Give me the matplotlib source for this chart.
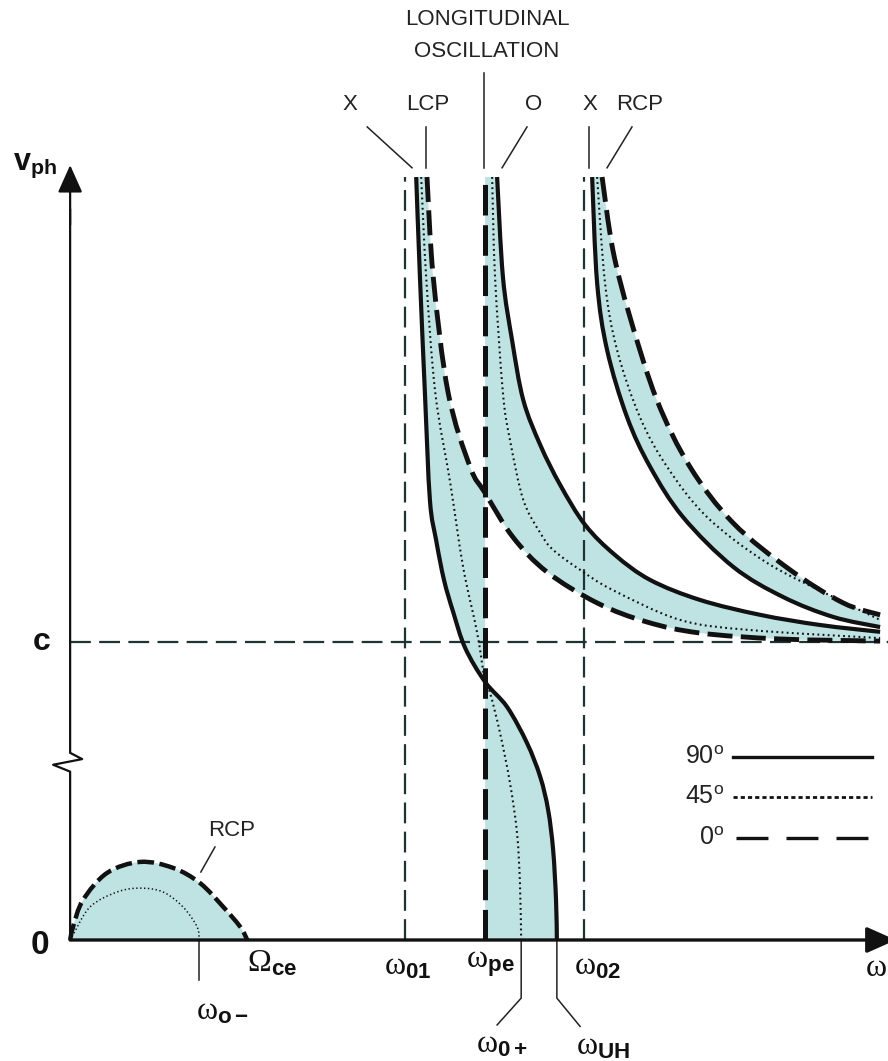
import numpy as np
import matplotlib
matplotlib.use('Agg')
import matplotlib.pyplot as plt
from matplotlib.path import Path
from matplotlib.patches import PathPatch

plt.rcParams['font.family'] = ['Liberation Sans', 'DejaVu Sans']
plt.rcParams['mathtext.fontset'] = 'custom'
plt.rcParams['mathtext.rm'] = 'Liberation Serif'
plt.rcParams['mathtext.bf'] = 'Liberation Sans:bold'
plt.rcParams['mathtext.sf'] = 'Liberation Sans'
plt.rcParams['mathtext.it'] = 'Liberation Serif:italic'
plt.rcParams['lines.scale_dashes'] = False

# x = omega / omega_pe,  y = v_ph / c 
w_ce = 0.427
w_0m = 0.311
w_01 = 0.807
w_pe = 1.0
w_0p = 1.087
w_uh = 1.173
w_02 = 1.239
y_top = 2.56
x_end = 1.971

# X mode / LCP group (left)
x90_x = [0.834, 0.843, 0.855, 0.867, 0.882, 0.901, 0.923, 0.952, 1.000, 1.053, 1.101, 1.133, 1.152, 1.164, 1.171, 1.173]
x90_y = [2.560, 2.225, 1.836, 1.477, 1.342, 1.208, 1.101, 0.980, 0.866, 0.782, 0.661, 0.547, 0.436, 0.302, 0.134, 0.0]
x45_x = [0.846, 0.858, 0.880, 0.916, 0.947, 0.981, 1.000, 1.012, 1.036, 1.060, 1.077, 1.084, 1.087]
x45_y = [2.560, 2.225, 1.836, 1.534, 1.252, 1.030, 0.866, 0.829, 0.695, 0.527, 0.359, 0.191, 0.0]
lcp_x = [0.860, 0.875, 0.911, 0.964, 1.000, 1.067, 1.149, 1.270, 1.390, 1.518, 1.711, 1.952]
lcp_y = [2.560, 2.225, 1.836, 1.587, 1.500, 1.352, 1.235, 1.131, 1.067, 1.030, 1.010, 1.003]

# O mode group
o90_x = [1.029, 1.043, 1.065, 1.092, 1.133, 1.181, 1.241, 1.313, 1.398, 1.518, 1.663, 1.807, 1.952]
o90_y = [2.560, 2.225, 2.013, 1.812, 1.661, 1.527, 1.393, 1.292, 1.208, 1.141, 1.091, 1.057, 1.034]
o45_x = [1.017, 1.024, 1.043, 1.060, 1.092, 1.133, 1.164, 1.229, 1.308, 1.470, 1.639, 1.952]
o45_y = [2.560, 2.225, 1.836, 1.678, 1.477, 1.366, 1.309, 1.242, 1.174, 1.074, 1.040, 1.013]

# X / RCP group (right)
r90_x = [1.258, 1.270, 1.294, 1.342, 1.398, 1.477, 1.598, 1.718, 1.839, 1.952]
r90_y = [2.560, 2.205, 1.980, 1.755, 1.587, 1.419, 1.252, 1.151, 1.084, 1.050]
r45_x = [1.270, 1.289, 1.318, 1.373, 1.439, 1.535, 1.680, 1.839, 1.952]
r45_y = [2.560, 2.205, 1.980, 1.755, 1.587, 1.419, 1.265, 1.151, 1.074]
r0_x = [1.282, 1.308, 1.349, 1.414, 1.494, 1.598, 1.735, 1.863, 1.952]
r0_y = [2.560, 2.315, 2.091, 1.812, 1.587, 1.399, 1.242, 1.131, 1.091]

# low frequency RCP (whistler)
wh0_x = [0.0, 0.007, 0.031, 0.089, 0.169, 0.248, 0.313, 0.369, 0.410, 0.427]
wh0_y = [0.0, 0.044, 0.134, 0.225, 0.262, 0.242, 0.191, 0.111, 0.044, 0.0]
wh45_x = [0.0, 0.007, 0.048, 0.113, 0.169, 0.224, 0.272, 0.306, 0.311]
wh45_y = [0.0, 0.017, 0.111, 0.161, 0.174, 0.161, 0.111, 0.044, 0.0]

legend_labels = ['90$^{\\mathsf{o}}$', '45$^{\\mathsf{o}}$', '0$^{\\mathsf{o}}$']

ink = '#111111'
teal = '#bfe3e2'
thin = '#1e3434'


def bez(xs, ys, i0=0, i1=None):
    # cubic bezier pieces through the read points (catmull-rom tangents)
    p = np.column_stack([xs, ys])
    n = len(p)
    if i1 is None:
        i1 = n - 1
    verts = [p[i0]]
    for i in range(i0, i1):
        a = p[max(i - 1, 0)]
        d = p[min(i + 2, n - 1)]
        verts += [p[i] + (p[i + 1] - a) / 6, p[i + 1] - (d - p[i]) / 6, p[i + 1]]
    return verts


def build(parts, close=False):
    verts, codes = [], []
    for part in parts:
        verts += list(part)
        codes += [Path.LINETO] + [Path.CURVE4] * (len(part) - 1)
    codes[0] = Path.MOVETO
    if close:
        verts.append(verts[0])
        codes.append(Path.CLOSEPOLY)
    return Path(verts, codes)


def curve(ax, xs, ys, **kw):
    ax.add_patch(PathPatch(build([bez(xs, ys)]), fill=False, **kw))


def band(ax, parts):
    ax.add_patch(PathPatch(build(parts, close=True), facecolor=teal, lw=0, zorder=1))


fig = plt.figure(figsize=(8.88, 10.61), dpi=100)
ax = fig.add_axes([0, 0, 1, 1])
ax.set_xlim(-0.169, 1.971)
ax.set_ylim(-0.406, 3.154)
ax.axis('off')

ic = x90_y.index(0.866)
k = next(i for i, v in enumerate(lcp_x) if v >= w_pe)

# shaded bands
band(ax, [bez(wh0_x, wh0_y)])
band(ax, [bez(x90_x, x90_y, 0, ic), bez(lcp_x, lcp_y, 0, k)[::-1]])
band(ax, [[(w_pe, y_top)], bez(lcp_x, lcp_y, k), bez(o90_x, o90_y)[::-1]])
band(ax, [bez(x90_x, x90_y, ic), [(w_pe, 0.0)]])
band(ax, [bez(r0_x, r0_y), bez(r90_x, r90_y)[::-1]])

# reference lines
ax.plot([w_01, w_01], [0, y_top], color=thin, lw=1.6, dashes=(15, 6), zorder=2)
ax.plot([w_02, w_02], [0, y_top], color=thin, lw=1.6, dashes=(15, 6), zorder=2)
ax.plot([0, x_end], [1.0, 1.0], color=thin, lw=1.6, dashes=(15, 6), zorder=2)

# curves
solid = dict(edgecolor=ink, lw=3.0, zorder=3)
dot = dict(edgecolor=ink, lw=1.5, linestyle=(0, (1.3, 2.4)), zorder=3)
dash = dict(edgecolor=ink, lw=3.5, linestyle=(0, (18, 6)), capstyle='butt', zorder=3)
curve(ax, x90_x, x90_y, **solid)
curve(ax, x45_x, x45_y, **dot)
curve(ax, lcp_x, lcp_y, **dash)
ax.plot([w_pe, w_pe], [0, y_top], color=ink, lw=3.6, dashes=(22, 7), zorder=3)
curve(ax, o90_x, o90_y, **solid)
curve(ax, o45_x, o45_y, **dot)
curve(ax, r90_x, r90_y, **solid)
curve(ax, r45_x, r45_y, **dot)
curve(ax, r0_x, r0_y, **dash)
curve(ax, wh0_x, wh0_y, edgecolor=ink, lw=3.2, linestyle=(0, (12, 4)), capstyle='butt', zorder=3)
curve(ax, wh45_x, wh45_y, edgecolor=ink, lw=1.1, linestyle=(0, (1, 1.8)), zorder=3)

# axes with break on the v_ph axis
ax.plot([0, 0, -0.041, 0.029, 0, 0], [0, 0.565, 0.588, 0.607, 0.628, 2.45], color=ink, lw=1.6, zorder=4)
ax.annotate('', xy=(0, 2.60), xytext=(0, 2.40), annotation_clip=False,
            arrowprops=dict(arrowstyle='-|>,head_length=0.85,head_width=0.38', shrinkA=0, shrinkB=0,
                            color=ink, lw=1.6, mutation_scale=20), zorder=4)
ax.annotate('', xy=(1.99, 0), xytext=(0, 0), annotation_clip=False,
            arrowprops=dict(arrowstyle='-|>,head_length=0.9,head_width=0.4', shrinkA=0, shrinkB=0,
                            color=ink, lw=2.4, mutation_scale=20), zorder=4)

# legend
leg_y = [0.614, 0.480, 0.342]
ax.plot([1.598, 1.933], [leg_y[0]] * 2, color=ink, lw=2.4)
ax.plot([1.598, 1.933], [leg_y[1]] * 2, color=ink, lw=2.0, dashes=(3, 2.2))
ax.plot([1.605, 1.933], [leg_y[2]] * 2, color=ink, lw=2.4, dashes=(23, 13))
for lab, yy in zip(legend_labels, leg_y):
    ax.text(1.576, yy, lab, fontsize=18, ha='right', va='center', color='#222222')

# top labels and leaders
lbl = dict(fontsize=16, ha='center', va='center', color='#222222')
ax.text(1.005, 3.087, 'LONGITUDINAL', **lbl)
ax.text(1.005, 2.980, 'OSCILLATION', **lbl)
ax.text(0.675, 2.802, 'X', **lbl)
ax.text(0.863, 2.802, 'LCP', **lbl)
ax.text(1.116, 2.802, 'O', **lbl)
ax.text(1.253, 2.802, 'X', **lbl)
ax.text(1.372, 2.802, 'RCP', **lbl)
lead = dict(color='#222222', lw=1.1)
ax.plot([0.716, 0.824], [2.728, 2.591], **lead)
ax.plot([0.858, 0.858], [2.728, 2.591], **lead)
ax.plot([0.998, 0.998], [2.909, 2.591], **lead)
ax.plot([1.101, 1.041], [2.728, 2.591], **lead)
ax.plot([1.251, 1.251], [2.728, 2.591], **lead)
ax.plot([1.354, 1.294], [2.728, 2.591], **lead)

# low-frequency RCP label
ax.text(0.39, 0.369, 'RCP', **lbl)
ax.plot([0.349, 0.315], [0.312, 0.228], **lead)

# axis labels
ax.text(-0.084, 2.60, r'$\mathbf{v}_{\mathbf{ph}}$', fontsize=22, ha='center', va='center', color=ink)
ax.text(-0.068, 1.0, 'c', fontsize=23, fontweight='bold', ha='center', va='center', color=ink)
ax.text(-0.072, -0.02, '0', fontsize=24, fontweight='bold', ha='center', va='center', color=ink)
wl = dict(fontsize=23, ha='center', va='center', color=ink)
ax.text(1.916, -0.094, r'$\mathrm{\omega}$', fontsize=23, ha='left', va='center', color=ink)
ax.text(0.487, -0.080, r'$\mathrm{\Omega}_{\mathbf{ce}}$', **wl)
ax.text(0.814, -0.090, r'$\mathrm{\omega}_{\mathbf{01}}$', **wl)
ax.text(1.012, -0.082, r'$\mathrm{\omega}_{\mathbf{pe}}$', **wl)
ax.text(1.272, -0.090, r'$\mathrm{\omega}_{\mathbf{02}}$', **wl)
ax.text(0.366, -0.240, r'$\mathrm{\omega}_{\mathbf{o-}}$', **wl)
ax.text(1.041, -0.350, r'$\mathrm{\omega}_{\mathbf{0+}}$', **wl)
ax.text(1.284, -0.356, r'$\mathrm{\omega}_{\mathbf{UH}}$', **wl)
ax.plot([w_0m, w_0m], [0, -0.134], **lead)
ax.plot([w_0p, w_0p, 1.029], [0, -0.195, -0.285], **lead)
ax.plot([w_uh, w_uh, 1.229], [0, -0.195, -0.290], **lead)

fig.savefig('out.png', dpi=100)
